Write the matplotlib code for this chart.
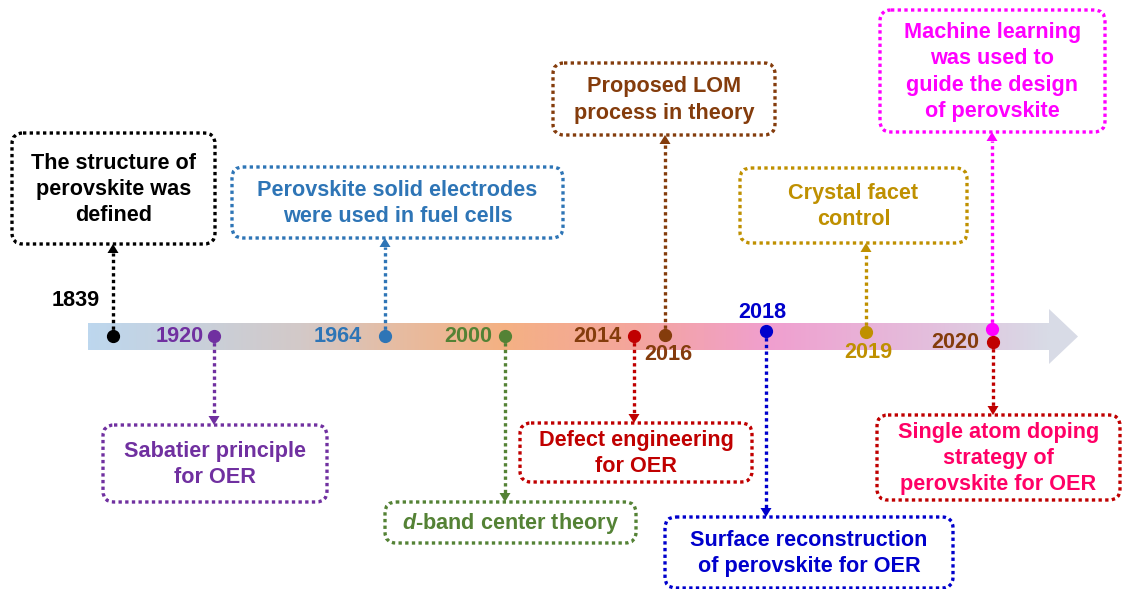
import matplotlib
matplotlib.use("Agg")
import matplotlib.pyplot as plt
from matplotlib.patches import FancyBboxPatch, Polygon
from matplotlib.colors import LinearSegmentedColormap
import numpy as np

plt.rcParams['font.family'] = ['Liberation Sans', 'DejaVu Sans']
plt.rcParams['mathtext.fontset'] = 'custom'
plt.rcParams['mathtext.it'] = 'Liberation Sans:bold:italic'
plt.rcParams['mathtext.rm'] = 'Liberation Sans:bold'

# ---- data ----
years = ["1839", "1920", "1964", "2000", "2014", "2016", "2018", "2019", "2020", "2020"]
events = [
    "The structure of\nperovskite was\ndefined",
    "Sabatier principle\nfor OER",
    "Perovskite solid electrodes\nwere used in fuel cells",
    r"$\mathit{d}$-band center theory",
    "Defect engineering\nfor OER",
    "Proposed LOM\nprocess in theory",
    "Surface reconstruction\nof perovskite for OER",
    "Crystal facet\ncontrol",
    "Machine learning\nwas used to\nguide the design\nof perovskite",
    "Single atom doping\nstrategy of\nperovskite for OER",
]
show_year = [True, True, True, True, True, True, True, True, True, False]

# ---- styles / layout ----
mark_colors = ["#000000", "#7030a0", "#2e75b6", "#548235", "#c00000",
               "#843c0c", "#0000cc", "#bf9000", "#ff00ff", "#c00000"]
text_colors = ["#000000", "#7030a0", "#2e75b6", "#548235", "#c00000",
               "#843c0c", "#0000cc", "#bf9000", "#ff00ff", "#ff0066"]
year_colors = ["#000000", "#7030a0", "#2e75b6", "#548235", "#843c0c",
               "#843c0c", "#0000cc", "#bf9000", "#843c0c", "#843c0c"]
dot_xy = [(113, 336), (214, 336), (385, 336), (505, 336), (634, 336),
          (665, 335), (766, 331), (866, 332), (992, 329), (993, 342)]
year_xy = [(76, 300), (180, 337), (338, 337), (468, 337), (597, 337),
           (668, 355), (762, 313), (868, 353), (955, 342), None]
boxes = [(12, 133, 215, 244), (103, 425, 327, 502), (232, 167, 563, 238),
         (385, 502, 636, 543), (520, 423, 752, 482), (553, 63, 775, 135),
         (665, 517, 953, 588), (740, 168, 967, 243), (880, 10, 1105, 132),
         (877, 415, 1120, 500)]

W, H = 1123, 589
fig = plt.figure(figsize=(W / 100, H / 100), dpi=100)
ax = fig.add_axes([0, 0, 1, 1])
ax.set_xlim(0, W)
ax.set_ylim(H, 0)
ax.axis('off')

# gradient bar
bar_x0, bar_x1, bar_y0, bar_y1 = 88, 1050, 323, 350
cmap = LinearSegmentedColormap.from_list("tl", [
    (0.0, "#bdd7ee"), (0.22, "#d3c9c8"), (0.32, "#e6bca2"), (0.43, "#f4b183"),
    (0.57, "#f4a59d"), (0.71, "#f09fcf"), (0.88, "#e3bfdd"), (1.0, "#d8dbe6")])
grad = cmap(np.linspace(0, 1, 512))[None, :, :3]
ax.imshow(grad, extent=[bar_x0, bar_x1, bar_y1, bar_y0], aspect='auto',
          interpolation='bilinear', zorder=1)
ax.add_patch(Polygon([(bar_x1 - 1, 309), (1078, 336.5), (bar_x1 - 1, 364)],
                     closed=True, fc="#d8dbe6", ec="none", zorder=1))

fs = 15.6
for i in range(len(events)):
    x0, y0, x1, y1 = boxes[i]
    mc = mark_colors[i]
    ax.add_patch(FancyBboxPatch((x0, y0), x1 - x0, y1 - y0,
                                boxstyle="round,pad=0,rounding_size=11",
                                fc="white", ec=mc, lw=2.4, ls=(0, (1, 1)),
                                zorder=3))
    ax.text((x0 + x1) / 2, (y0 + y1) / 2 + 1, events[i], ha='center', va='center',
            fontsize=fs, fontweight='bold', color=text_colors[i],
            linespacing=1.32, zorder=4)
    dx, dy = dot_xy[i]
    if y1 < dy:   # box above
        tip = y1
        base = tip + 9
    else:
        tip = y0
        base = tip - 9
    ax.plot([dx, dx], [dy, base], color=mc, lw=2.4, ls=(0, (1, 1)),
            solid_capstyle='butt', dash_capstyle='butt', zorder=2)
    ax.add_patch(Polygon([(dx - 5.5, base), (dx, tip), (dx + 5.5, base)],
                         closed=True, fc=mc, ec='none', zorder=5))
    ax.plot([dx], [dy], 'o', color=mc, ms=8.5, zorder=6)
    if show_year[i]:
        yx, yy = year_xy[i]
        ax.text(yx, yy, years[i], ha='center', va='center', fontsize=fs,
                fontweight='bold', color=year_colors[i], zorder=6)

fig.savefig("out.png", dpi=100)
